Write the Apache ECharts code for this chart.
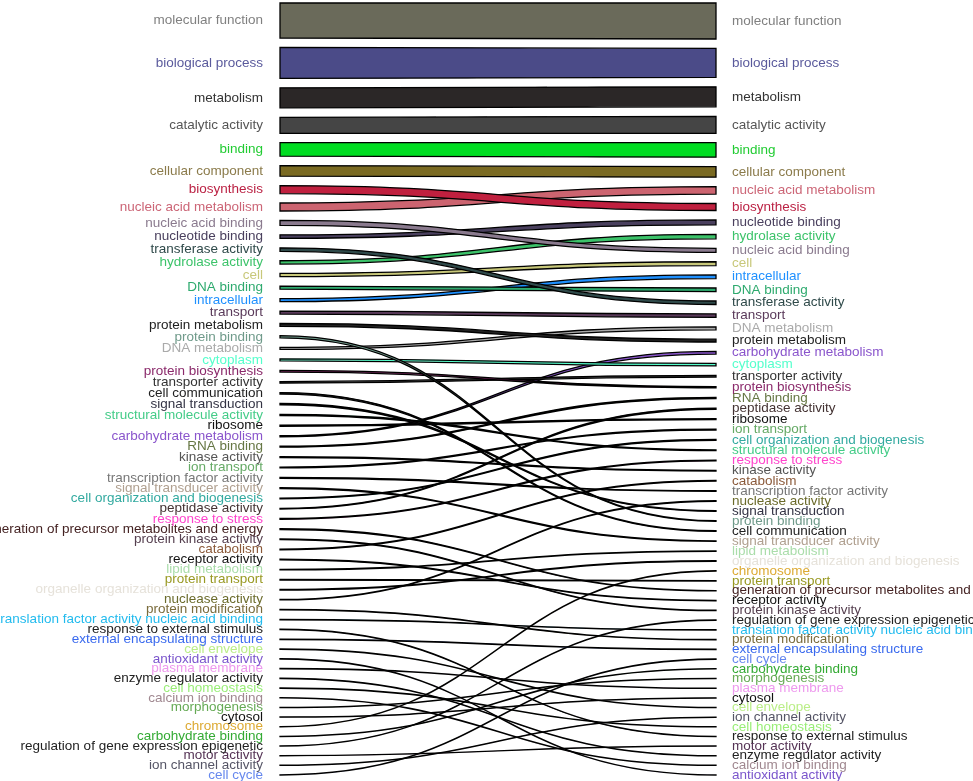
<!DOCTYPE html>
<html>
<head>
<meta charset="utf-8">
<title>GO term ranking</title>
<script src="https://cdn.jsdelivr.net/npm/echarts@6/dist/echarts.min.js"></script>
<style>
  html, body { margin: 0; padding: 0; background: #fff; }
  #chart { width: 973px; height: 781px; }
</style>
</head>
<body>
<div id="chart"></div>
<script>
// ranking on the left, top to bottom
const leftTerms = [
    'molecular function', 'biological process', 'metabolism', 'catalytic activity', 'binding',
    'cellular component', 'biosynthesis', 'nucleic acid metabolism', 'nucleic acid binding',
    'nucleotide binding', 'transferase activity', 'hydrolase activity', 'cell', 'DNA binding',
    'intracellular', 'transport', 'protein metabolism', 'protein binding', 'DNA metabolism',
    'cytoplasm', 'protein biosynthesis', 'transporter activity', 'cell communication',
    'signal transduction', 'structural molecule activity', 'ribosome', 'carbohydrate metabolism',
    'RNA binding', 'kinase activity', 'ion transport', 'transcription factor activity',
    'signal transducer activity', 'cell organization and biogenesis', 'peptidase activity',
    'response to stress', 'generation of precursor metabolites and energy', 'protein kinase activity',
    'catabolism', 'receptor activity', 'lipid metabolism', 'protein transport',
    'organelle organization and biogenesis', 'nuclease activity', 'protein modification',
    'translation factor activity nucleic acid binding', 'response to external stimulus',
    'external encapsulating structure', 'cell envelope', 'antioxidant activity', 'plasma membrane',
    'enzyme regulator activity', 'cell homeostasis', 'calcium ion binding', 'morphogenesis',
    'cytosol', 'chromosome', 'carbohydrate binding', 'regulation of gene expression epigenetic',
    'motor activity', 'ion channel activity', 'cell cycle'
];

// band thickness at the left end, same order as leftTerms
const leftWeights = [
    35, 31, 20, 16, 13.5, 10.5, 8, 8, 5, 3.5, 3.5, 3.3, 3.2, 3.1, 3, 3, 2.8, 2.2, 2.1, 2, 1.8,
    1.6, 1.5, 1.4, 1.3, 1.2, 1.1, 1, 1, 0.9, 0.9, 0.9, 0.8, 0.8, 0.8, 0.8,
    0.7, 0.7, 0.7, 0.6, 0.6, 0.6, 0.5, 0.5, 0.5, 0.4, 0.4, 0.4,
    0.3, 0.3, 0.3, 0.3, 0.3, 0.2, 0.2, 0.2, 0.2, 0.2, 0.2, 0.2, 0.2
];

// ranking on the right, top to bottom
const rightTerms = [
    'molecular function', 'biological process', 'metabolism', 'catalytic activity', 'binding',
    'cellular component', 'nucleic acid metabolism', 'biosynthesis', 'nucleotide binding',
    'hydrolase activity', 'nucleic acid binding', 'cell', 'intracellular', 'DNA binding',
    'transferase activity', 'transport', 'DNA metabolism', 'protein metabolism',
    'carbohydrate metabolism', 'cytoplasm', 'transporter activity', 'protein biosynthesis',
    'RNA binding', 'peptidase activity', 'ribosome', 'ion transport',
    'cell organization and biogenesis', 'structural molecule activity', 'response to stress',
    'kinase activity', 'catabolism', 'transcription factor activity', 'nuclease activity',
    'signal transduction', 'protein binding', 'cell communication', 'signal transducer activity',
    'lipid metabolism', 'organelle organization and biogenesis', 'chromosome', 'protein transport',
    'generation of precursor metabolites and energy', 'receptor activity', 'protein kinase activity',
    'regulation of gene expression epigenetic', 'translation factor activity nucleic acid binding',
    'protein modification', 'external encapsulating structure', 'cell cycle', 'carbohydrate binding',
    'morphogenesis', 'plasma membrane', 'cytosol', 'cell envelope', 'ion channel activity',
    'cell homeostasis', 'response to external stimulus', 'motor activity',
    'enzyme regulator activity', 'calcium ion binding', 'antioxidant activity'
];

// band thickness at the right end, same order as rightTerms
const rightWeights = [
    36, 29, 20, 17, 14.5, 10.5, 7.5, 7, 5, 4.5, 4, 3.8, 3.6, 3.6, 3.5, 3.4, 3, 2.8, 2.6, 2.4,
    1.8, 1.4, 1.3, 1.2, 1, 0.9, 0.9, 0.9, 0.8, 0.7, 0.7, 0.6, 0.6, 0.6, 0.6, 0.6, 0.6,
    0.5, 0.5, 0.5, 0.5, 0.4, 0.4, 0.4, 0.3, 0.3, 0.3, 0.3, 0.3, 0.3, 0.3, 0.3,
    0.2, 0.2, 0.2, 0.2, 0.2, 0.2, 0.2, 0.2, 0.2
];

// label colours
const termColors = {
    'molecular function': '#808080', 'biological process': '#5a5a9c', 'metabolism': '#333333',
    'catalytic activity': '#555555', 'binding': '#22cc33', 'cellular component': '#8b7b4b',
    'biosynthesis': '#bb2244', 'nucleic acid metabolism': '#cc6677', 'nucleic acid binding': '#8a7a8e',
    'nucleotide binding': '#4a405e', 'transferase activity': '#2f4a4a', 'hydrolase activity': '#3cc36a',
    'cell': '#c8c87a', 'DNA binding': '#2eaa6e', 'intracellular': '#1e90ff', 'transport': '#5a3a5a',
    'protein metabolism': '#222222', 'protein binding': '#6f9a8a', 'DNA metabolism': '#aaaaaa',
    'cytoplasm': '#55ffcc', 'protein biosynthesis': '#8b2a6b', 'transporter activity': '#333333',
    'cell communication': '#222222', 'signal transduction': '#333344',
    'structural molecule activity': '#44cc88', 'ribosome': '#111111', 'carbohydrate metabolism': '#8a55cc',
    'RNA binding': '#667744', 'kinase activity': '#555555', 'ion transport': '#66aa66',
    'transcription factor activity': '#777777', 'signal transducer activity': '#b0a090',
    'cell organization and biogenesis': '#33aaa0', 'peptidase activity': '#443333',
    'response to stress': '#ff44cc', 'generation of precursor metabolites and energy': '#442222',
    'protein kinase activity': '#553f4f', 'catabolism': '#8b5a3a', 'receptor activity': '#111111',
    'lipid metabolism': '#aaddaa', 'protein transport': '#999922',
    'organelle organization and biogenesis': '#e6e2da', 'nuclease activity': '#6b6b2b',
    'protein modification': '#7a6b3b', 'translation factor activity nucleic acid binding': '#22bbee',
    'response to external stimulus': '#222222', 'external encapsulating structure': '#3a6aee',
    'cell envelope': '#bbee88', 'antioxidant activity': '#7a55cc', 'plasma membrane': '#ee99ee',
    'enzyme regulator activity': '#222222', 'cell homeostasis': '#99ee77', 'calcium ion binding': '#a08890',
    'morphogenesis': '#66aa55', 'cytosol': '#111111', 'chromosome': '#ddaa33',
    'carbohydrate binding': '#33aa33', 'regulation of gene expression epigenetic': '#222222',
    'motor activity': '#553355', 'ion channel activity': '#555566', 'cell cycle': '#6688ee'
};

// darker fills for the wide bands
const bandFills = {
    'molecular function': '#6a6a5a', 'biological process': '#4b4b88', 'metabolism': '#2b2727',
    'catalytic activity': '#454545', 'binding': '#00dd22', 'cellular component': '#7a6a22',
    'biosynthesis': '#c0203f', 'nucleic acid metabolism': '#cc6470'
};

const gap = 9.43;

function stack(order, weights) {
    const pos = {};
    let y = 0;
    order.forEach(function (name, i) {
        pos[name] = [y, y + weights[i]];
        y += weights[i] + gap;
    });
    return { pos: pos, end: y - gap };
}

const left = stack(leftTerms, leftWeights);
const right = stack(rightTerms, rightWeights);
const total = Math.max(left.end, right.end);

const bandData = leftTerms.map(function (name) {
    return {
        name: name,
        value: [left.pos[name][0], left.pos[name][1], right.pos[name][0], right.pos[name][1]]
    };
}).reverse();

const font = '13.5px "Liberation Sans", Arial, sans-serif';

function renderBand(params, api) {
    const name = bandData[params.dataIndex].name;
    const a = api.coord([0, api.value(0)]);
    const b = api.coord([0, api.value(1)]);
    const c = api.coord([1, api.value(2)]);
    const d = api.coord([1, api.value(3)]);
    const xm = (a[0] + c[0]) / 2;
    const path = 'M' + a[0] + ',' + a[1] +
        ' C' + xm + ',' + a[1] + ' ' + xm + ',' + c[1] + ' ' + c[0] + ',' + c[1] +
        ' L' + d[0] + ',' + d[1] +
        ' C' + xm + ',' + d[1] + ' ' + xm + ',' + b[1] + ' ' + b[0] + ',' + b[1] + ' Z';
    const color = termColors[name];
    return {
        type: 'group',
        children: [
            {
                type: 'path',
                shape: { pathData: path },
                style: { fill: bandFills[name] || color, stroke: '#000', lineWidth: 1.3 }
            },
            {
                type: 'text',
                x: a[0] - 17,
                y: (a[1] + b[1]) / 2,
                style: { text: name, fill: color, font: font, align: 'right', verticalAlign: 'middle' }
            },
            {
                type: 'text',
                x: c[0] + 16,
                y: (c[1] + d[1]) / 2,
                style: { text: name, fill: color, font: font, align: 'left', verticalAlign: 'middle' }
            }
        ]
    };
}

const chart = echarts.init(document.getElementById('chart'));

const option = {
    animation: false,
    backgroundColor: '#fff',
    grid: { left: 280, right: 257, top: 3, height: total },
    xAxis: { type: 'value', min: 0, max: 1, show: false },
    yAxis: { type: 'value', min: 0, max: total, inverse: true, show: false },
    series: [{
        type: 'custom',
        silent: true,
        clip: false,
        renderItem: renderBand,
        data: bandData
    }]
};

chart.setOption(option);
</script>
</body>
</html>
